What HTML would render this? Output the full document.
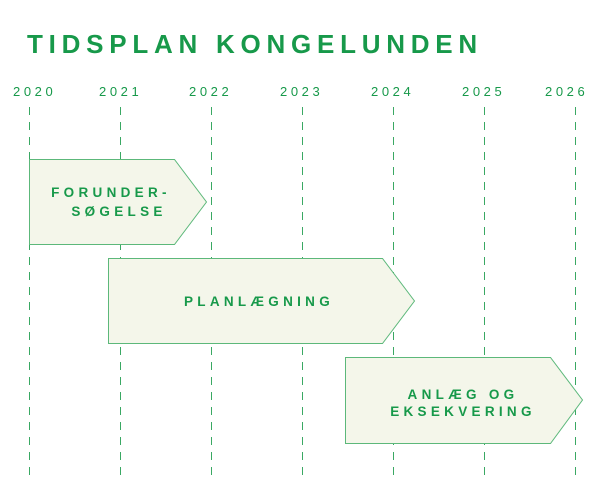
<!DOCTYPE html>
<html><head><meta charset="utf-8"><style>
html,body{margin:0;padding:0;background:#fff;width:600px;height:500px;overflow:hidden}
svg{display:block}
.t{font-family:"Liberation Sans",sans-serif;font-weight:bold;fill:#17994a}
.y{font-family:"Liberation Sans",sans-serif;fill:#17994a;font-size:13px;letter-spacing:3.6px}
</style></head><body>
<svg width="600" height="500" viewBox="0 0 600 500">
<text class="t" x="27" y="53" font-size="26" letter-spacing="5.75">TIDSPLAN KONGELUNDEN</text>
<g class="y">
<text x="13" y="96">2020</text>
<text x="99" y="96">2021</text>
<text x="189" y="96">2022</text>
<text x="280" y="96">2023</text>
<text x="371" y="96">2024</text>
<text x="462" y="96">2025</text>
<text x="545" y="96">2026</text>
</g>
<g stroke="#3aa863" stroke-width="1" stroke-dasharray="8,7">
<line x1="29.5" y1="107" x2="29.5" y2="476"/>
<line x1="120.5" y1="107" x2="120.5" y2="476"/>
<line x1="211.5" y1="107" x2="211.5" y2="476"/>
<line x1="302.5" y1="107" x2="302.5" y2="476"/>
<line x1="393.5" y1="107" x2="393.5" y2="476"/>
<line x1="484.5" y1="107" x2="484.5" y2="476"/>
<line x1="575.5" y1="107" x2="575.5" y2="476"/>
</g>
<g fill="#f4f6ea" stroke="#5cb87a" stroke-width="1">
<polygon points="29.5,159.5 174.5,159.5 206.5,202 174.5,244.5 29.5,244.5"/>
<polygon points="108.5,258.5 382.5,258.5 414.5,301 382.5,343.5 108.5,343.5"/>
<polygon points="345.5,357.5 550.5,357.5 582.5,400 550.5,443.5 345.5,443.5"/>
</g>
<g class="t" font-size="13.5" letter-spacing="4.3" text-anchor="middle">
<text x="111" y="197">FORUNDER-</text>
<text x="119" y="216">SØGELSE</text>
<text x="259" y="306">PLANLÆGNING</text>
<text x="463" y="399">ANLÆG OG</text>
<text x="463" y="416">EKSEKVERING</text>
</g>
</svg>
</body></html>
